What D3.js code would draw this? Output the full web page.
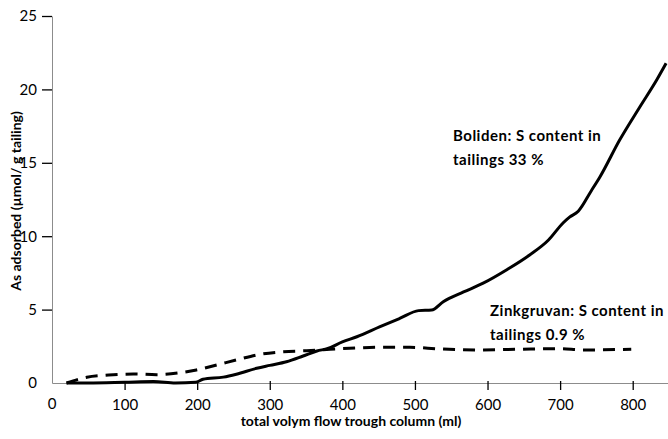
<!DOCTYPE html>
<html>
<head>
<meta charset="utf-8">
<script src="https://cdn.jsdelivr.net/npm/d3@7"></script>
<style>
  body { margin: 0; background: #fff; }
  text { font-family: Lato, "Open Sans", sans-serif; fill: #000; }
</style>
</head>
<body>
<div class="chart-container"></div>
<script>
// volume (ml) / As adsorbed (umol/g tailing)
const bolidenX = [20, 50, 100, 140, 170, 198, 208, 236, 254, 282, 300, 323, 346, 365, 380, 400, 420, 452, 479, 505, 523, 539, 567, 594, 626, 658, 684, 704, 713, 725, 743, 755, 782, 810, 833, 846];
const bolidenY = [0, 0, 0.05, 0.1, 0, 0.05, 0.25, 0.4, 0.6, 1.0, 1.2, 1.45, 1.84, 2.18, 2.35, 2.8, 3.15, 3.84, 4.4, 4.93, 4.97, 5.54, 6.2, 6.8, 7.7, 8.72, 9.74, 10.9, 11.3, 11.7, 13.1, 14.05, 16.55, 18.82, 20.64, 21.78];

const zinkX = [20, 48, 78, 112, 144, 176, 199, 227, 254, 286, 319, 351, 383, 410, 452, 493, 534, 590, 645, 695, 736, 798];
const zinkY = [0, 0.39, 0.54, 0.61, 0.57, 0.7, 0.89, 1.23, 1.57, 1.95, 2.13, 2.2, 2.3, 2.36, 2.43, 2.43, 2.32, 2.25, 2.3, 2.34, 2.25, 2.3];

const xTicks = [100, 200, 300, 400, 500, 600, 700, 800];
const yTicks = [0, 5, 10, 15, 20, 25];

const width = 668;
const height = 439;
const margin = { top: 16, right: 0, bottom: 56, left: 52 };

const svg = d3.select('.chart-container')
  .append('svg')
  .attr('width', width)
  .attr('height', height);

const x = d3.scaleLinear()
  .domain([0, 850])
  .range([margin.left, width + 1]);

const y = d3.scaleLinear()
  .domain([0, 25])
  .range([height - margin.bottom, margin.top]);

// x axis
const xAxis = svg.append('g')
  .attr('transform', `translate(0, ${y(0)})`)
  .call(d3.axisBottom(x).tickValues(xTicks).tickSize(7).tickSizeOuter(0).tickPadding(9));
xAxis.select('.domain').attr('stroke', '#8c8c8c');
xAxis.selectAll('.tick line').attr('stroke', '#000').attr('stroke-width', 1.3).attr('y1', -2);
xAxis.selectAll('.tick text').attr('font-size', 15).attr('font-family', 'Lato').attr('fill', '#000');
xAxis.append('text')
  .attr('x', x(0))
  .attr('y', 26)
  .attr('text-anchor', 'middle')
  .attr('font-size', 15)
  .text('0');

// y axis
const yAxis = svg.append('g')
  .attr('transform', `translate(${x(0)}, 0)`)
  .call(d3.axisLeft(y).tickValues(yTicks).tickSize(10).tickSizeOuter(0).tickPadding(5));
yAxis.select('.domain').attr('stroke', '#8c8c8c');
yAxis.selectAll('.tick line').attr('stroke', '#000').attr('stroke-width', 1.3);
yAxis.selectAll('.tick text').attr('font-size', 15).attr('font-family', 'Lato').attr('fill', '#000');
yAxis.selectAll('.tick').filter(d => d === 0).select('line').remove();

// axis titles
svg.append('text')
  .attr('x', 351)
  .attr('y', 426)
  .attr('text-anchor', 'middle')
  .attr('font-size', 14)
  .attr('font-weight', 'bold')
  .text('total volym flow trough column (ml)');

svg.append('text')
  .attr('transform', `translate(21, 201) rotate(-90)`)
  .attr('text-anchor', 'middle')
  .attr('font-size', 14)
  .attr('font-weight', 'bold')
  .text('As adsorbed (µmol/ g tailing)');

// lines
const line = d3.line()
  .x(d => x(d[0]))
  .y(d => y(d[1]))
  .curve(d3.curveMonotoneX);

svg.append('path')
  .datum(d3.zip(zinkX, zinkY))
  .attr('fill', 'none')
  .attr('stroke', '#000')
  .attr('stroke-width', 3)
  .attr('stroke-dasharray', '12,8')
  .attr('d', line);

svg.append('path')
  .datum(d3.zip(bolidenX, bolidenY))
  .attr('fill', 'none')
  .attr('stroke', '#000')
  .attr('stroke-width', 3)
  .attr('stroke-linejoin', 'round')
  .attr('d', line);

// annotations
const notes = [
  { x: 453, y: 141, lines: ['Boliden: S content in', 'tailings 33 %'] },
  { x: 490, y: 316, lines: ['Zinkgruvan: S content in', 'tailings 0.9 %'] }
];
notes.forEach(n => {
  const t = svg.append('text')
    .attr('x', n.x)
    .attr('y', n.y)
    .attr('font-size', 15)
    .attr('font-weight', 'bold')
    .attr('letter-spacing', 0.5);
  n.lines.forEach((s, i) => {
    t.append('tspan').attr('x', n.x).attr('dy', i === 0 ? 0 : 24).text(s);
  });
});
</script>
</body>
</html>
